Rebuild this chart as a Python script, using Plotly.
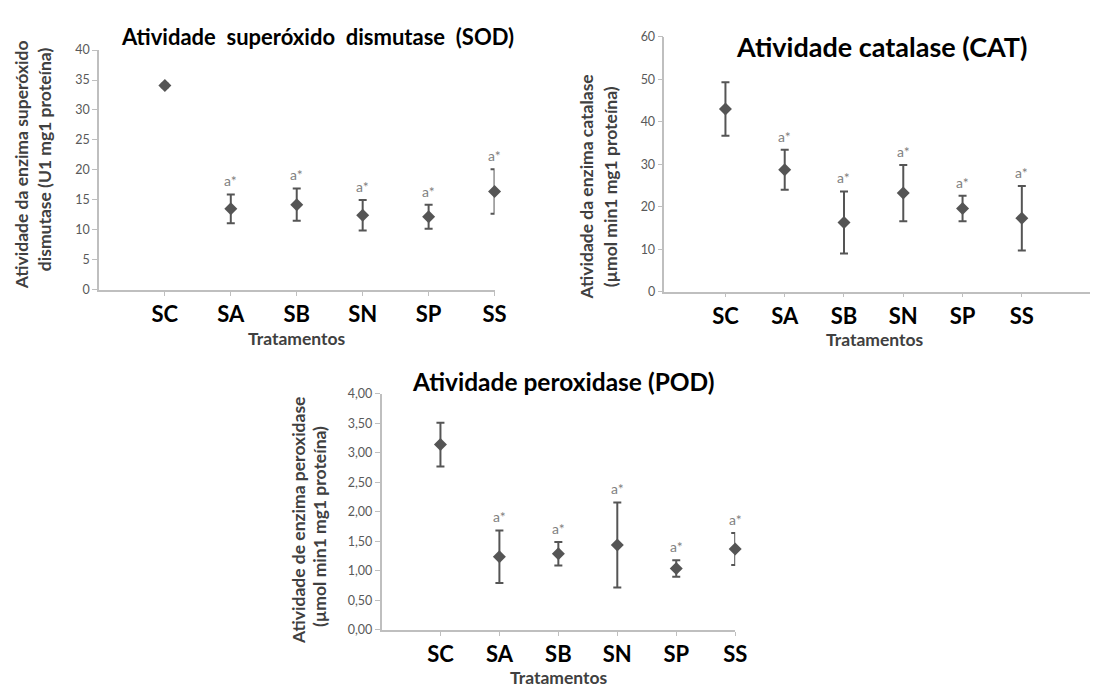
import plotly.graph_objects as go

W, H = 1102, 693
FONT = "Lato"

categories = ["SC", "SA", "SB", "SN", "SP", "SS"]

sod_mean = [34.1, 13.5, 14.2, 12.45, 12.2, 16.4]
sod_err = [0.3, 2.4, 2.7, 2.55, 2.0, 3.7]
sod_sig = ["", "a*", "a*", "a*", "a*", "a*"]

cat_mean = [43.0, 28.7, 16.3, 23.2, 19.6, 17.3]
cat_err = [6.3, 4.7, 7.3, 6.6, 3.0, 7.6]
cat_sig = ["", "a*", "a*", "a*", "a*", "a*"]

pod_mean = [3.14, 1.24, 1.29, 1.44, 1.04, 1.37]
pod_err = [0.37, 0.445, 0.20, 0.72, 0.14, 0.27]
pod_sig = ["", "a*", "a*", "a*", "a*", "a*"]


def px(x):
    return x / W


def py(y):
    return 1 - y / H


MARK = "#555555"
AXIS = "#bfbfbf"
TICKC = "#595959"
TITLEC = "#404040"

fig = go.Figure()

panels = [
    ("x", "y", sod_mean, sod_err, sod_sig, (100, 500), (288, 43), [-1, 5], [0, 40], 5, None),
    ("x2", "y2", cat_mean, cat_err, cat_sig, (671.7, 1102), (290, 29.3), [-1.03, 6.15], [0, 60], 10, None),
    ("x3", "y3", pod_mean, pod_err, pod_sig, (385.7, 743.3), (635.7, 394.3), [-1, 5], [0, 4], 0.5, ".2f"),
]

layout_axes = {}
annotations = []
for xa, ya, mean, err, sig, xd, yd, xr, yr, dt, fmt in panels:
    fig.add_trace(go.Scatter(
        x=categories, y=mean, mode="markers",
        marker=dict(symbol="diamond", size=10, color=MARK),
        error_y=dict(type="data", array=err, color=MARK, thickness=2, width=4),
        xaxis=xa, yaxis=ya, showlegend=False, cliponaxis=False,
    ))
    xkey = "xaxis" if xa == "x" else "xaxis" + xa[1:]
    ykey = "yaxis" if ya == "y" else "yaxis" + ya[1:]
    layout_axes[xkey] = dict(
        domain=[px(xd[0]), px(xd[1])], anchor=ya, type="category",
        categoryorder="array", categoryarray=categories,
        range=xr, showline=True, linecolor=AXIS, linewidth=1.5,
        ticks="outside", ticklen=4, tickcolor=AXIS, tickwidth=1,
        showgrid=False, zeroline=False,
        tickfont=dict(family=FONT, size=22, color="#000000", weight="bold"),
        ticklabelstandoff=0,
    )
    ydict = dict(
        domain=[py(yd[0]), py(yd[1])], anchor=xa, range=yr, dtick=dt,
        tick0=0, showline=True, linecolor=AXIS, linewidth=1.5,
        ticks="outside", ticklen=5, tickcolor=AXIS, tickwidth=1,
        showgrid=False, zeroline=False,
        tickfont=dict(family=FONT, size=12.5, color=TICKC),
    )
    if fmt:
        ydict["tickformat"] = fmt
    layout_axes[ykey] = ydict
    for c, m, e, s in zip(categories, mean, err, sig):
        if s:
            annotations.append(dict(
                x=c, y=m + e, xref=xa, yref=ya, text=s, showarrow=False,
                yanchor="bottom", yshift=3,
                font=dict(family=FONT, size=14, color="#7f7f7f"),
            ))


def text_ann(x, y, text, size, color="#000000", angle=0):
    annotations.append(dict(
        x=px(x), y=py(y), xref="paper", yref="paper", text=text,
        showarrow=False, xanchor="center", yanchor="middle", textangle=angle,
        font=dict(family=FONT, size=size, color=color, weight="bold"),
    ))


# Titles
text_ann(321, 29, "Atividade  superóxido  dismutase  (SOD)", 22)
text_ann(891, 39, "Atividade catalase (CAT)", 27)
text_ann(570, 382, "Atividade peroxidase (POD)", 24.5)

# X titles
text_ann(300, 338, "Tratamentos", 17.5, TITLEC)
text_ann(885, 339, "Tratamentos", 17.5, TITLEC)
text_ann(565, 684, "Tratamentos", 17.5, TITLEC)

# Y titles
text_ann(22, 160, "Atividade da enzima superóxido", 17.5, TITLEC, -90)
text_ann(45, 155, "dismutase (U1 mg1 proteína)", 17.5, TITLEC, -90)
text_ann(592, 183, "Atividade da enzima catalase", 17.5, TITLEC, -90)
text_ann(617, 183, "(µmol min1 mg1 proteína)", 17.5, TITLEC, -90)
text_ann(301.7, 523, "Atividade de enzima peroxidase", 17.5, TITLEC, -90)
text_ann(323, 530, "(µmol min1 mg1 proteína)", 17.5, TITLEC, -90)

fig.update_layout(
    width=W, height=H, margin=dict(l=0, r=0, t=0, b=0),
    paper_bgcolor="white", plot_bgcolor="white",
    separators=",.",
    font=dict(family=FONT),
    annotations=annotations,
    **layout_axes,
)

fig.write_html("out.html")
